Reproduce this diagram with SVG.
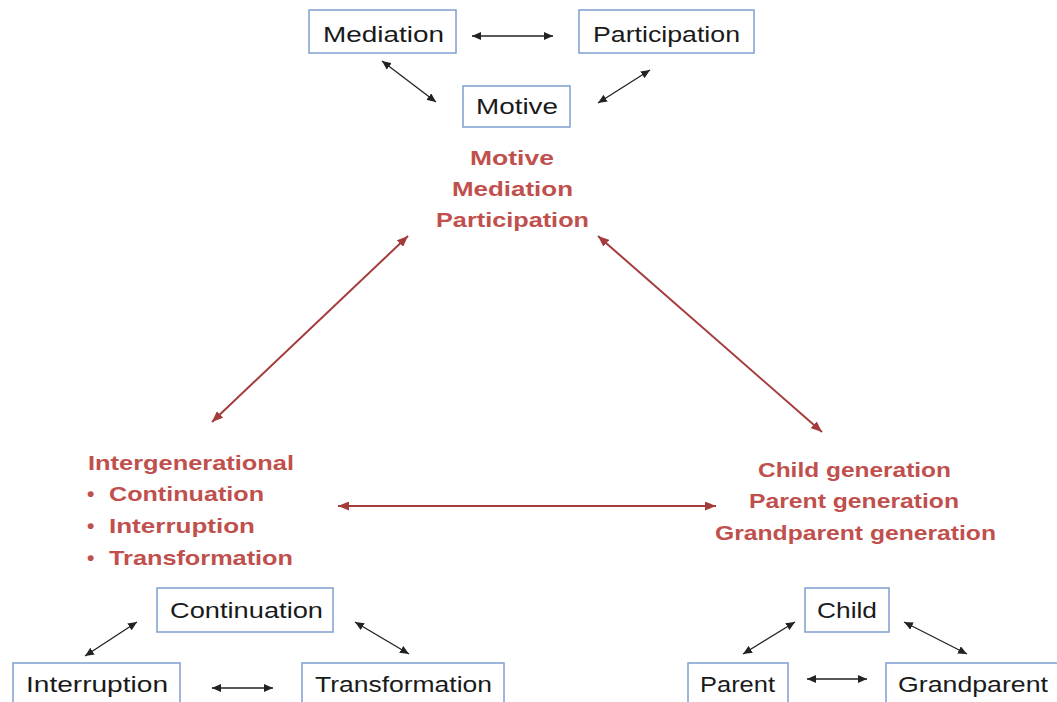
<svg xmlns="http://www.w3.org/2000/svg" width="1057" height="702" viewBox="0 0 1057 702">
<style>
.box{fill:#fff;stroke:#7f9fd0;stroke-width:1.5}
.bt{font-family:"Liberation Sans",Arial,sans-serif;font-size:22px;fill:#1a1a1a}
.rt{font-family:"Liberation Sans",Arial,sans-serif;font-size:21px;font-weight:bold;fill:#c0504d}
.bl{stroke:#222;stroke-width:1.3;fill:none;marker-start:url(#ab);marker-end:url(#ab)}
.rl{stroke:#a33d3b;stroke-width:2;fill:none;marker-start:url(#ar);marker-end:url(#ar)}
</style>
<defs>
<marker id="ab" viewBox="0 0 9 8" refX="9" refY="4" markerWidth="9" markerHeight="8" markerUnits="userSpaceOnUse" orient="auto-start-reverse"><path d="M0,0 L9,4 L0,8 z" fill="#222"/></marker>
<marker id="ar" viewBox="0 0 11 9" refX="11" refY="4.5" markerWidth="11" markerHeight="9" markerUnits="userSpaceOnUse" orient="auto-start-reverse"><path d="M0,0 L11,4.5 L0,9 z" fill="#a33d3b"/></marker>
</defs>
<rect width="1057" height="702" fill="#fff"/>
<g id="connectors">
<line class="bl" x1="472" y1="36" x2="553" y2="36"/>
<line class="bl" x1="382" y1="61" x2="436" y2="102"/>
<line class="bl" x1="598" y1="103" x2="650" y2="70"/>
<line class="bl" x1="85" y1="656" x2="137" y2="622"/>
<line class="bl" x1="355" y1="622" x2="409" y2="654"/>
<line class="bl" x1="212" y1="688" x2="273" y2="688"/>
<line class="bl" x1="743" y1="654" x2="795" y2="622"/>
<line class="bl" x1="904" y1="622" x2="967" y2="654"/>
<line class="bl" x1="807" y1="679" x2="867" y2="679"/>
<line class="rl" x1="212" y1="422" x2="408" y2="236"/>
<line class="rl" x1="598" y1="236" x2="822" y2="432"/>
<line class="rl" x1="338" y1="506" x2="716" y2="506"/>
</g>
<g id="mediation"><rect class="box" x="309" y="10" width="147" height="43"/><text class="bt" x="323" y="42" textLength="121" lengthAdjust="spacingAndGlyphs">Mediation</text></g>
<g id="participation"><rect class="box" x="579" y="10" width="175" height="43"/><text class="bt" x="593" y="42" textLength="147" lengthAdjust="spacingAndGlyphs">Participation</text></g>
<g id="motive"><rect class="box" x="463" y="86" width="107" height="41"/><text class="bt" x="476" y="114" textLength="82" lengthAdjust="spacingAndGlyphs">Motive</text></g>
<g id="continuation"><rect class="box" x="157" y="588" width="176" height="44"/><text class="bt" x="170" y="618" textLength="153" lengthAdjust="spacingAndGlyphs">Continuation</text></g>
<g id="interruption"><rect class="box" x="13" y="663" width="167" height="45"/><text class="bt" x="26" y="692" textLength="142" lengthAdjust="spacingAndGlyphs">Interruption</text></g>
<g id="transformation"><rect class="box" x="302" y="663" width="202" height="45"/><text class="bt" x="315" y="692" textLength="177" lengthAdjust="spacingAndGlyphs">Transformation</text></g>
<g id="child"><rect class="box" x="805" y="588" width="84" height="44"/><text class="bt" x="817" y="618" textLength="60" lengthAdjust="spacingAndGlyphs">Child</text></g>
<g id="parent"><rect class="box" x="688" y="663" width="100" height="45"/><text class="bt" x="700" y="692" textLength="75" lengthAdjust="spacingAndGlyphs">Parent</text></g>
<g id="grandparent"><rect class="box" x="886" y="663" width="180" height="45"/><text class="bt" x="898" y="692" textLength="150" lengthAdjust="spacingAndGlyphs">Grandparent</text></g>
<g id="top-label">
<text class="rt" x="470" y="165" textLength="84" lengthAdjust="spacingAndGlyphs">Motive</text>
<text class="rt" x="452" y="196" textLength="121" lengthAdjust="spacingAndGlyphs">Mediation</text>
<text class="rt" x="436" y="227" textLength="153" lengthAdjust="spacingAndGlyphs">Participation</text>
</g>
<g id="left-label">
<text class="rt" x="88" y="470" textLength="206" lengthAdjust="spacingAndGlyphs">Intergenerational</text>
<text class="rt" x="87" y="501">•</text>
<text class="rt" x="109" y="501" textLength="155" lengthAdjust="spacingAndGlyphs">Continuation</text>
<text class="rt" x="87" y="533">•</text>
<text class="rt" x="109" y="533" textLength="146" lengthAdjust="spacingAndGlyphs">Interruption</text>
<text class="rt" x="87" y="565">•</text>
<text class="rt" x="109" y="565" textLength="184" lengthAdjust="spacingAndGlyphs">Transformation</text>
</g>
<g id="right-label">
<text class="rt" x="758" y="477" textLength="193" lengthAdjust="spacingAndGlyphs">Child generation</text>
<text class="rt" x="749" y="508" textLength="210" lengthAdjust="spacingAndGlyphs">Parent generation</text>
<text class="rt" x="715" y="540" textLength="281" lengthAdjust="spacingAndGlyphs">Grandparent generation</text>
</g>
</svg>
